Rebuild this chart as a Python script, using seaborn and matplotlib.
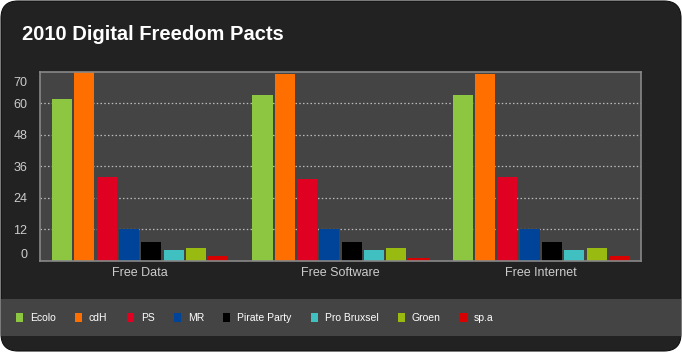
import matplotlib
matplotlib.use("Agg")
import matplotlib.pyplot as plt
from matplotlib.patches import FancyBboxPatch, Rectangle, Patch
import seaborn as sns
import pandas as pd

categories = ["Free Data", "Free Software", "Free Internet"]
parties = ["Ecolo", "cdH", "PS", "MR", "Pirate Party", "Pro Bruxsel", "Groen", "sp.a"]
ecolo = [61.7, 63, 63]
cdh = [73, 71, 71]
ps = [32, 31, 32]
mr = [12, 12, 12]
pirate = [7.2, 7.2, 7.2]
pro_bruxsel = [4.2, 4.2, 4.2]
groen = [5, 5, 5]
spa = [2, 1.3, 2]
colors = ["#8DC641", "#FF6F00", "#E00022", "#00449A", "#000000", "#40C0C0", "#99BB11", "#D90000"]
ytick_vals = [0, 12, 24, 36, 48, 60, 70]

series = [ecolo, cdh, ps, mr, pirate, pro_bruxsel, groen, spa]
rows = []
for p, vals in zip(parties, series):
    for c, v in zip(categories, vals):
        rows.append({"category": c, "party": p, "value": v})
df = pd.DataFrame(rows)

sns.set_style("dark")
plt.rcParams['font.family'] = ['Liberation Sans', 'DejaVu Sans']

fig = plt.figure(figsize=(6.82, 3.52), dpi=100)
fig.patch.set_facecolor("white")
card = FancyBboxPatch((1/682, 1/352), 680/682, 350/352,
                      boxstyle="round,pad=0,rounding_size=0.025",
                      transform=fig.transFigure, facecolor="#222222",
                      edgecolor="#111111", linewidth=0.8, mutation_aspect=682/352,
                      zorder=-10)
fig.patches.append(card)
band = Rectangle((1/682, 1 - 336/352), 680/682, 37/352, transform=fig.transFigure,
                 facecolor="#444444", edgecolor="none", zorder=-9)
fig.patches.append(band)

ax = fig.add_axes([40/682, 1 - 261/352, 601/682, 189.3/352])
ax.set_facecolor("#444444")
sns.barplot(data=df, x="category", y="value", hue="party", order=categories,
            hue_order=parties, palette=colors, width=0.89, gap=0.1,
            saturation=1, ax=ax, legend=False, linewidth=0, edgecolor="none")
ax.set_xlim(-0.5, 2.5)
ax.set_ylim(0, 72)
ax.set_yticks(ytick_vals)
ax.set_yticklabels([str(v) for v in ytick_vals])
ax.set_xlabel("")
ax.set_ylabel("")
ax.grid(False)
for v in ytick_vals[1:-1]:
    ax.axhline(v, color="#BBBBBB", linestyle=(0, (1.2, 1.8)), linewidth=0.9, zorder=0.5)
for s in ax.spines.values():
    s.set_visible(True)
    s.set_color("#888888")
    s.set_linewidth(1.2)
ax.tick_params(axis="both", length=0, colors="#CCCCCC", labelsize=9)
ax.tick_params(axis="y", pad=9)
ax.tick_params(axis="x", pad=4)
ylabels = ax.get_yticklabels()
ylabels[0].set_va("bottom")
ylabels[-1].set_va("top")
for t in ax.get_xticklabels() + ax.get_yticklabels():
    t.set_color("#CCCCCC")

fig.text(22/682, 1 - 35/352, "2010 Digital Freedom Pacts", color="white",
         fontsize=14.5, fontweight="bold", va="center", ha="left")

handles = [Patch(facecolor=c, edgecolor="none", label=p) for p, c in zip(parties, colors)]
leg = fig.legend(handles=handles, loc="center left", bbox_to_anchor=(16/682, 1 - 318/352),
                 ncol=8, frameon=False, fontsize=7.5, labelcolor="white",
                 handlelength=0.67, handleheight=1.0, handletextpad=0.67,
                 columnspacing=1.85, borderaxespad=0, borderpad=0)

fig.savefig("out.png", dpi=100, facecolor=fig.get_facecolor())
